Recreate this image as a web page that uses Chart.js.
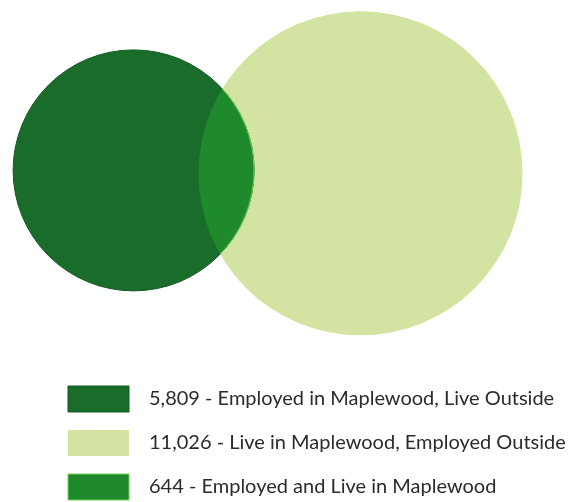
<!DOCTYPE html>
<html>
<head>
<meta charset="utf-8">
<script src="https://cdn.jsdelivr.net/npm/chart.js@4"></script>
<style>
    html, body { margin: 0; padding: 0; background: #fff; overflow: hidden; }
    #wrap { width: 579px; height: 510px; position: relative; }
</style>
</head>
<body>
<div id="wrap"><canvas id="venn"></canvas></div>
<script>
// commuting counts for Maplewood
const groupLabels = [
    "Employed in Maplewood, Live Outside",
    "Live in Maplewood, Employed Outside",
    "Employed and Live in Maplewood"
]
const groupCounts = [5809, 11026, 644]

const colors = ["#1a6c2a", "#d3e3a1", "#1e8a2c"]

// circle size follows the people in each circle (own count + shared count)
const sizeFactor = 1.5
const leftTotal = groupCounts[0] + groupCounts[2]
const rightTotal = groupCounts[1] + groupCounts[2]

// where the two circles sit on the hidden 0-100 axes
const leftCenter = { x: 15.8, y: 46.3 }
const rightCenter = { x: 58.7, y: 47.1 }

function fmt(n) {
    return n.toLocaleString("en-US")
}

// the shared part is the left circle clipped to the right one
const overlapClip = {
    id: "overlapClip",
    beforeDatasetDraw(chart, args) {
        if (args.index !== 2) return
        let outer = chart.getDatasetMeta(1).data[0]
        let ctx = chart.ctx
        ctx.save()
        ctx.beginPath()
        ctx.arc(outer.x, outer.y, outer.options.radius, 0, Math.PI * 2)
        ctx.clip()
    },
    afterDatasetDraw(chart, args) {
        if (args.index === 2) chart.ctx.restore()
    }
}

new Chart(document.getElementById("venn"), {
    type: "bubble",
    data: {
        datasets: [{
            label: "\u2002" + fmt(groupCounts[0]) + " - " + groupLabels[0],
            data: [{ x: leftCenter.x, y: leftCenter.y, r: sizeFactor * Math.sqrt(leftTotal) }],
            backgroundColor: colors[0],
            borderColor: "#135a20",
            borderWidth: 1,
            order: 2,
            clip: false
        }, {
            label: "\u2002" + fmt(groupCounts[1]) + " - " + groupLabels[1],
            data: [{ x: rightCenter.x, y: rightCenter.y, r: sizeFactor * Math.sqrt(rightTotal) }],
            backgroundColor: colors[1],
            borderColor: colors[1],
            borderWidth: 0,
            order: 3,
            clip: false
        }, {
            label: "\u2002" + fmt(groupCounts[2]) + " - " + groupLabels[2],
            data: [{ x: leftCenter.x, y: leftCenter.y, r: sizeFactor * Math.sqrt(leftTotal) }],
            backgroundColor: colors[2],
            borderColor: "#6fcf55",
            borderWidth: 1,
            order: 1,
            clip: false
        }]
    },
    options: {
        responsive: true,
        maintainAspectRatio: false,
        animation: false,
        events: [],
        layout: { autoPadding: false, padding: { left: 50, right: 0, top: 0, bottom: 0 } },
        scales: {
            x: { display: false, min: 0, max: 100 },
            y: { display: false, min: 0, max: 100, reverse: true }
        },
        plugins: {
            tooltip: { enabled: false },
            legend: {
                position: "bottom",
                align: "start",
                labels: {
                    boxWidth: 61,
                    boxHeight: 26,
                    padding: 18,
                    color: "#2b2b2b",
                    font: { family: "Lato", size: 20 },
                    sort: (a, b) => a.datasetIndex - b.datasetIndex
                }
            }
        }
    },
    plugins: [overlapClip]
})
</script>
</body>
</html>
